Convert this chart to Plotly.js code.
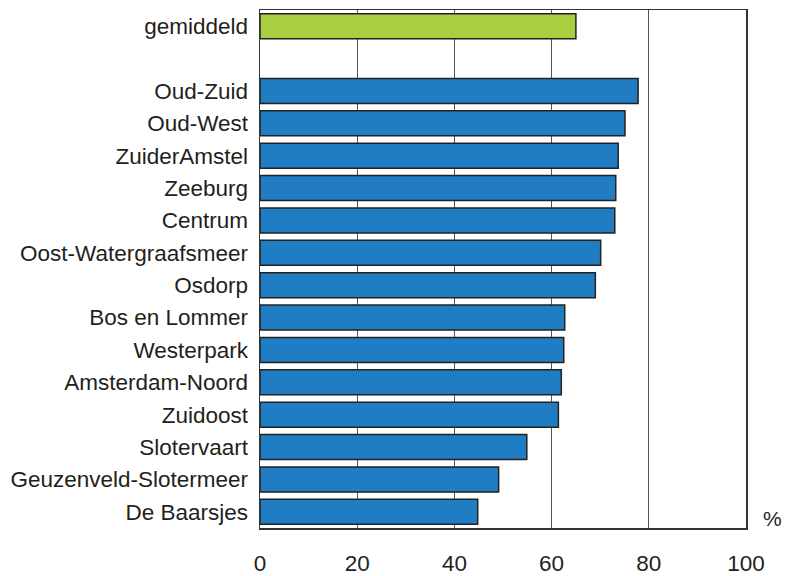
<!DOCTYPE html>
<html>
<head>
<meta charset="utf-8">
<script src="https://cdn.plot.ly/plotly-3.0.1.min.js"></script>
<style>html,body{margin:0;padding:0;background:#fff;}#chart{width:786px;height:576px;}</style>
</head>
<body>
<div id="chart"></div>
<script>
// Districts, top to bottom as shown
const districts = ["Oud-Zuid","Oud-West","ZuiderAmstel","Zeeburg","Centrum","Oost-Watergraafsmeer","Osdorp","Bos en Lommer","Westerpark","Amsterdam-Noord","Zuidoost","Slotervaart","Geuzenveld-Slotermeer","De Baarsjes"];
const districtValues = [77.8,75.1,73.7,73.2,73.0,70.1,69.0,62.7,62.5,62.0,61.4,54.9,49.1,44.8];
const averageLabel = ["gemiddeld"];
const averageValue = [65.0];
const gapLabel = " ";
const xTicks = [0,20,40,60,80,100];

const font = "Liberation Sans, Arial, sans-serif";
const fs = 22.5;
const catOrder = districts.slice().reverse().concat([gapLabel]).concat(averageLabel);

const traces = [
  {type:"bar", orientation:"h", y:districts, x:districtValues, width:0.77,
   marker:{color:"#217dc3", line:{color:"#222222", width:1.5}}, hoverinfo:"x+y"},
  {type:"bar", orientation:"h", y:averageLabel, x:averageValue, width:0.77,
   marker:{color:"#a8cf3f", line:{color:"#222222", width:1.5}}, hoverinfo:"x+y"}
];

const layout = {
  width:786, height:576,
  margin:{l:260, r:40, t:10, b:48},
  paper_bgcolor:"#fff", plot_bgcolor:"#fff",
  showlegend:false,
  barmode:"overlay",
  font:{family:font, size:fs, color:"#231f20"},
  xaxis:{range:[0,100], tickvals:xTicks, ticktext:xTicks.map(String), showgrid:true, gridcolor:"#555", gridwidth:1,
         zeroline:false, showline:true, linecolor:"#333", linewidth:1.5, mirror:true, ticks:"", ticklabelstandoff:14,
         tickfont:{family:font, size:fs, color:"#231f20"}, fixedrange:true},
  yaxis:{type:"category", categoryorder:"array", categoryarray:catOrder, range:[-0.5, catOrder.length-0.5],
         showgrid:false, zeroline:false, showline:true, linecolor:"#333", linewidth:1.5, mirror:true, ticks:"",
         ticklabelstandoff:6, tickfont:{family:font, size:fs, color:"#231f20"}, fixedrange:true},
  annotations:[{text:"%", xref:"paper", yref:"paper", x:1.0, y:0, xanchor:"left", yanchor:"bottom", xshift:15, yshift:-4,
                showarrow:false, font:{family:font, size:21, color:"#231f20"}}]
};

Plotly.newPlot("chart", traces, layout, {displayModeBar:false, staticPlot:true});
</script>
</body>
</html>
